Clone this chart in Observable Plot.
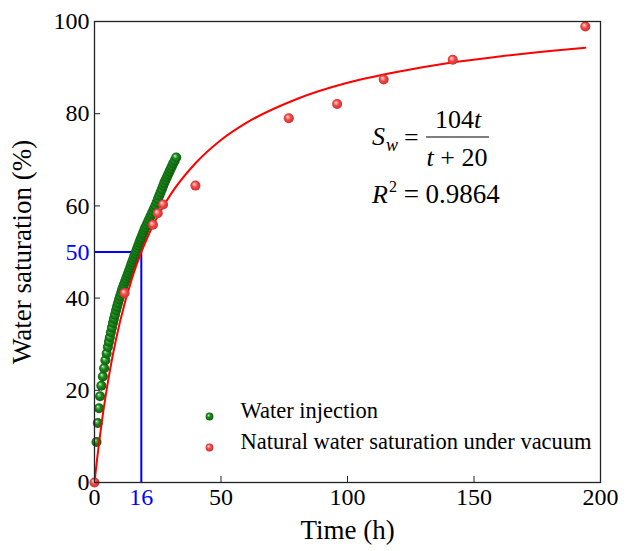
<!DOCTYPE html>
<html><head><meta charset="utf-8">
<script src="https://cdn.jsdelivr.net/npm/d3@7"></script>
<script src="https://cdn.jsdelivr.net/npm/@observablehq/plot@0.6"></script>
<style>html,body{margin:0;padding:0;background:#fff}</style>
</head><body><div id="chart"></div>
<script>
// Water injection (green)
const injT = [0.8,1.3,1.8,2.2,2.7,3.3,3.8,4.3,4.8,5.3,5.7,6.1,6.5,6.9,7.3,7.7,8.1,8.5,8.9,9.3,9.7,10.1,10.5,10.9,11.3,11.7,12.1,12.5,12.9,13.3,13.7,14.1,14.5,14.9,15.3,15.7,16.1,16.5,16.9,17.3,17.7,18.1,18.5,18.9,19.3,19.7,20.1,20.6,21.1,21.6,22.1,22.6,23.1,23.6,24.1,24.6,25.1,25.6,26.1,26.6,27.1,27.6,28.1,28.6,29.1,29.6,30.1,30.6,31.1,31.7,32.3];
const injY = [8.8,12.9,16.1,18.7,21.0,23.0,24.8,26.5,28.0,29.4,30.5,31.5,32.6,33.6,34.6,35.5,36.4,37.3,38.1,38.9,39.7,40.4,41.1,41.8,42.4,43.0,43.6,44.2,44.8,45.4,46.0,46.6,47.2,47.8,48.4,49.0,49.6,50.2,50.8,51.4,52.0,52.6,53.1,53.7,54.2,54.8,55.3,55.9,56.5,57.1,57.7,58.3,58.9,59.5,60.1,60.8,61.5,62.2,62.9,63.6,64.3,65.0,65.6,66.2,66.8,67.4,68.0,68.6,69.2,69.8,70.5];
// Natural water saturation under vacuum (red)
const vacT = [0,11.9,23.1,25.0,27.1,39.9,76.8,95.9,114.3,141.6,194];
const vacY = [0,41.1,55.9,58.4,60.3,64.4,79.0,82.1,87.4,91.7,98.9];
// Fitted curve Sw = 104t/(t+20)
const fitT = [0,1,2,3,5,7,10,15,20,25,30,40,50,60,80,100,120,140,160,180,194];
const fitY = [0,4.95,9.45,13.6,20.8,27.0,34.7,44.6,52.0,57.8,62.4,69.3,74.3,78.0,83.2,86.7,89.1,91.0,92.4,93.6,94.3];
const xTicks = [0,50,100,150,200];
const yTicks = [0,20,40,60,80,100];
const markLevel = 50, markTime = 18.5, markTimeLabel = "16";
const legendLabels = ["Water injection","Natural water saturation under vacuum"];

const W = 627, H = 551, mT = 21, mR = 27, mB = 69, mL = 94;
const innerW = W - mL - mR, innerH = H - mT - mB;
const serif = "'Liberation Serif','Times New Roman',serif";

const inj = injT.map((t,i)=>({t, y: injY[i]}));
const vac = vacT.map((t,i)=>({t, y: vacY[i]}));
const fit = fitT.map((t,i)=>({t, y: fitY[i]}));

const chart = Plot.plot({
  width: W, height: H,
  marginTop: mT, marginRight: mR, marginBottom: mB, marginLeft: mL,
  x: {domain: [0,200]},
  y: {domain: [0,100]},
  axis: null,
  style: {fontFamily: serif, fontSize: "24px", color: "black", background: "white", overflow: "visible"},
  marks: [
    Plot.ruleY([markLevel], {x1: 0, x2: markTime, stroke: "#0000ff", strokeWidth: 2}),
    Plot.ruleX([markTime], {y1: 0, y2: markLevel, stroke: "#0000ff", strokeWidth: 2}),
    Plot.dot(inj, {x: "t", y: "y", r: 5, fill: "url(#gGreen)"}),
    Plot.line(fit, {x: "t", y: "y", stroke: "#ff0000", strokeWidth: 2, curve: "monotone-x"}),
    Plot.dot(vac, {x: "t", y: "y", r: 5, fill: "url(#gRed)"}),
    Plot.tickX(xTicks.slice(1,-1), {x: d=>d, insetTop: innerH - 6, stroke: "#222"}),
    Plot.tickY(yTicks.slice(1,-1), {y: d=>d, insetRight: innerW - 6, stroke: "#222"}),
    Plot.frame({stroke: "#222", strokeWidth: 1.3}),
    // tick labels drawn through the scales
    Plot.text(xTicks, {x: d=>d, frameAnchor: "bottom", dy: 22, fontSize: 24, text: d=>String(d)}),
    Plot.text(yTicks, {y: d=>d, frameAnchor: "left", dx: -5, textAnchor: "end", fontSize: 24, text: d=>String(d)}),
    Plot.text([markLevel], {y: d=>d, frameAnchor: "left", dx: -5, textAnchor: "end", fontSize: 24, fill: "#0000ff", text: d=>String(d)}),
    Plot.text([markTime], {x: d=>d, frameAnchor: "bottom", dy: 22, fontSize: 24, fill: "#0000ff", text: () => markTimeLabel}),
    Plot.text(["Time (h)"], {frameAnchor: "bottom", dy: 56, fontSize: 27, textAnchor: "middle"}),
    Plot.text(["Water saturation (%)"], {frameAnchor: "left", dx: -72, rotate: -90, fontSize: 27, textAnchor: "middle"}),
    Plot.dot([0], {frameAnchor: "bottom-left", dx: 115, dy: -66, r: 3.9, fill: "url(#gGreen)"}),
    Plot.dot([0], {frameAnchor: "bottom-left", dx: 115, dy: -35, r: 3.9, fill: "url(#gRed)"}),
    Plot.text([legendLabels[0]], {frameAnchor: "bottom-left", dx: 146, dy: -65, textAnchor: "start", fontSize: 22.5}),
    Plot.text([legendLabels[1]], {frameAnchor: "bottom-left", dx: 146, dy: -34, textAnchor: "start", fontSize: 22.5})
  ]
});

const svg = d3.select(chart);
const defs = svg.insert("defs", ":first-child");
function grad(id, stops) {
  const g = defs.append("radialGradient").attr("id", id)
    .attr("cx", "50%").attr("cy", "50%").attr("r", "55%").attr("fx", "35%").attr("fy", "32%");
  stops.forEach(([o,c]) => g.append("stop").attr("offset", o).attr("stop-color", c));
}
grad("gGreen", [["0%","#f2fff2"],["18%","#74c474"],["42%","#1c8c1c"],["100%","#0a560a"]]);
grad("gRed", [["0%","#fff3f3"],["20%","#ff9f9f"],["50%","#f04848"],["100%","#cc2a2a"]]);

// Equation annotation
const eq = svg.append("g").attr("font-family", serif).attr("fill", "black")
  .attr("font-size", 26).attr("text-anchor", "start");
const s = eq.append("text").attr("x", 372).attr("y", 145);
s.append("tspan").attr("font-style", "italic").text("S");
s.append("tspan").attr("font-style", "italic").attr("font-size", 18).attr("dx", 1).attr("dy", 6).text("w");
eq.append("text").attr("x", 404).attr("y", 146).text("=");
eq.append("line").attr("x1", 426).attr("x2", 489).attr("y1", 137).attr("y2", 137).attr("stroke", "black").attr("stroke-width", 1.2);
const num = eq.append("text").attr("x", 458).attr("y", 128).attr("text-anchor", "middle");
num.append("tspan").text("104");
num.append("tspan").attr("font-style", "italic").text("t");
const den = eq.append("text").attr("x", 457).attr("y", 166).attr("text-anchor", "middle");
den.append("tspan").attr("font-style", "italic").text("t");
den.append("tspan").text(" + 20");
const r2 = eq.append("text").attr("x", 372).attr("y", 203);
r2.append("tspan").attr("font-style", "italic").text("R");
r2.append("tspan").attr("font-size", 16).attr("dx", 1).attr("dy", -11).text("2");
r2.append("tspan").attr("dy", 11).attr("font-size", 27).text(" = 0.9864");

document.getElementById("chart").appendChild(chart);
</script>
</body></html>
